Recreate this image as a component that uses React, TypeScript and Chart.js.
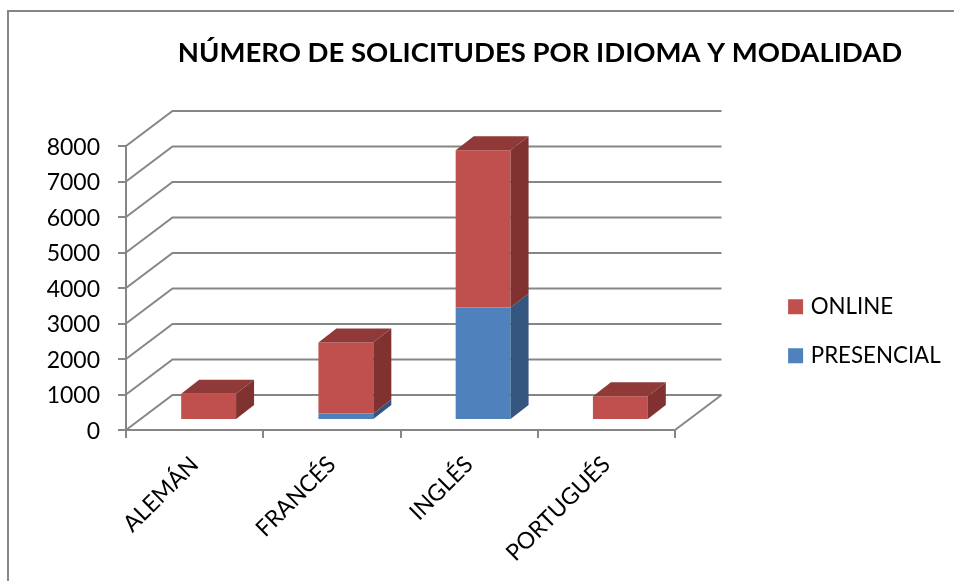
import React, { useEffect, useRef } from "react";
import { Chart, registerables } from "chart.js";

Chart.register(...registerables);

const categories = ["ALEMÁN", "FRANCÉS", "INGLÉS", "PORTUGUÉS"];
const presencial = [0, 180, 3170, 0];
const online = [740, 2000, 4430, 670];

const FONT = "Lato, Carlito, sans-serif";
const GRID = "#868686";
const RED = "#C0504D";
const RED_SIDE = "#7F322F";
const RED_TOP = "#8F3A38";
const BLUE = "#4F81BD";
const BLUE_SIDE = "#34557E";

const WALL = { dx: 46.5, dy: -35 };
const BAR_SHIFT = { dx: 14, dy: -10 };
const BAR_DEPTH = { dx: 18, dy: -14 };

function poly(ctx: CanvasRenderingContext2D, pts: number[][], fill: string) {
  ctx.beginPath();
  pts.forEach((p, i) => (i ? ctx.lineTo(p[0], p[1]) : ctx.moveTo(p[0], p[1])));
  ctx.closePath();
  ctx.fillStyle = fill;
  ctx.fill();
}

const depthPlugin = {
  id: "depth",
  afterLayout(chart: any) {
    const t = chart.titleBlock;
    t.left = 140;
    t.right = 940;
    const l = chart.legend;
    l.left = 765;
    l.right = 954;
    l.top = 269;
    l.bottom = 430;
  },
  beforeDraw(chart: any) {
    const ctx = chart.ctx;
    ctx.save();
    ctx.strokeStyle = GRID;
    ctx.lineWidth = 2;
    ctx.beginPath();
    ctx.moveTo(8, 581);
    ctx.lineTo(8, 11);
    ctx.lineTo(954, 11);
    ctx.stroke();
    ctx.restore();
  },
  beforeDatasetsDraw(chart: any) {
    const ctx = chart.ctx;
    const { left, right, bottom } = chart.chartArea;
    const y = chart.scales.y;
    ctx.save();
    ctx.strokeStyle = GRID;
    ctx.lineWidth = 2;
    y.ticks.forEach((tick: any) => {
      const py = y.getPixelForValue(tick.value);
      ctx.beginPath();
      ctx.moveTo(left, py);
      ctx.lineTo(left + WALL.dx, py + WALL.dy);
      ctx.lineTo(right + WALL.dx, py + WALL.dy);
      ctx.stroke();
    });
    ctx.beginPath();
    ctx.moveTo(right + WALL.dx, bottom + WALL.dy);
    ctx.lineTo(right, bottom);
    ctx.stroke();
    ctx.restore();

    ctx.save();
    ctx.translate(BAR_SHIFT.dx, BAR_SHIFT.dy);
  },
  afterDatasetsDraw(chart: any) {
    const ctx = chart.ctx;
    const sides = [BLUE_SIDE, RED_SIDE];
    const last = chart.data.datasets.length - 1;
    chart.data.datasets.forEach((_: any, di: number) => {
      chart.getDatasetMeta(di).data.forEach((bar: any) => {
        const r = bar.x + bar.width / 2;
        const l = bar.x - bar.width / 2;
        const d = BAR_DEPTH;
        if (Math.abs(bar.base - bar.y) > 0.01) {
          poly(
            ctx,
            [
              [r, bar.y],
              [r + d.dx, bar.y + d.dy],
              [r + d.dx, bar.base + d.dy],
              [r, bar.base],
            ],
            sides[di]
          );
        }
        if (di === last) {
          poly(
            ctx,
            [
              [l, bar.y],
              [l + d.dx, bar.y + d.dy],
              [r + d.dx, bar.y + d.dy],
              [r, bar.y],
            ],
            RED_TOP
          );
        }
      });
    });
    ctx.restore();
  },
};

export default function App() {
  const ref = useRef<HTMLCanvasElement>(null);
  useEffect(() => {
    const chart = new Chart(ref.current!, {
      type: "bar",
      data: {
        labels: categories,
        datasets: [
          { label: "PRESENCIAL", data: presencial, backgroundColor: BLUE, borderColor: BLUE, borderWidth: 0, clip: false },
          { label: "ONLINE", data: online, backgroundColor: RED, borderColor: RED, borderWidth: 0, clip: false },
        ],
      },
      options: {
        animation: false,
        responsive: false,
        devicePixelRatio: 1,
        barPercentage: 0.4,
        categoryPercentage: 1,
        layout: { padding: { left: 0, right: 279, top: 0, bottom: 0 } },
        plugins: {
          tooltip: { enabled: false },
          title: {
            display: true,
            text: "NÚMERO DE SOLICITUDES POR IDIOMA Y MODALIDAD",
            color: "#000",
            font: { family: FONT, size: 27.5, weight: "bold" },
            padding: { top: 37, bottom: 76 },
          },
          legend: {
            position: "chartArea",
            align: "start",
            reverse: true,
            labels: {
              color: "#000",
              font: { family: FONT, size: 22.3 },
              boxWidth: 8,
              boxHeight: 8,
              padding: 26.6,
              generateLabels(c: any) {
                return Chart.defaults.plugins.legend.labels
                  .generateLabels(c)
                  .map((it: any) => ({ ...it, lineWidth: 7, strokeStyle: it.fillStyle }));
              },
            },
          },
        },
        scales: {
          x: {
            stacked: true,
            afterFit(s: any) {
              s.height = 151;
            },
            grid: { offset: true, drawOnChartArea: false, color: GRID, lineWidth: 2, tickLength: 8 },
            border: { color: GRID, width: 2 },
            ticks: {
              autoSkip: false,
              maxRotation: 45,
              minRotation: 45,
              color: "#000",
              padding: 13,
              font: { family: FONT, size: 23 },
            },
          },
          y: {
            stacked: true,
            min: 0,
            max: 8000,
            afterFit(s: any) {
              s.width = 126;
            },
            grid: { drawOnChartArea: false, color: GRID, lineWidth: 2, tickLength: 8 },
            border: { color: GRID, width: 2 },
            ticks: {
              stepSize: 1000,
              color: "#000",
              padding: 18,
              labelOffset: 1.5,
              font: { family: FONT, size: 23 },
              callback: (v: any) => String(v),
            },
          },
        },
      },
      plugins: [depthPlugin],
    } as any);
    return () => chart.destroy();
  }, []);
  return (
    <canvas
      ref={ref}
      width={954}
      height={581}
      style={{ position: "absolute", left: 0, top: 0, display: "block" }}
    />
  );
}
